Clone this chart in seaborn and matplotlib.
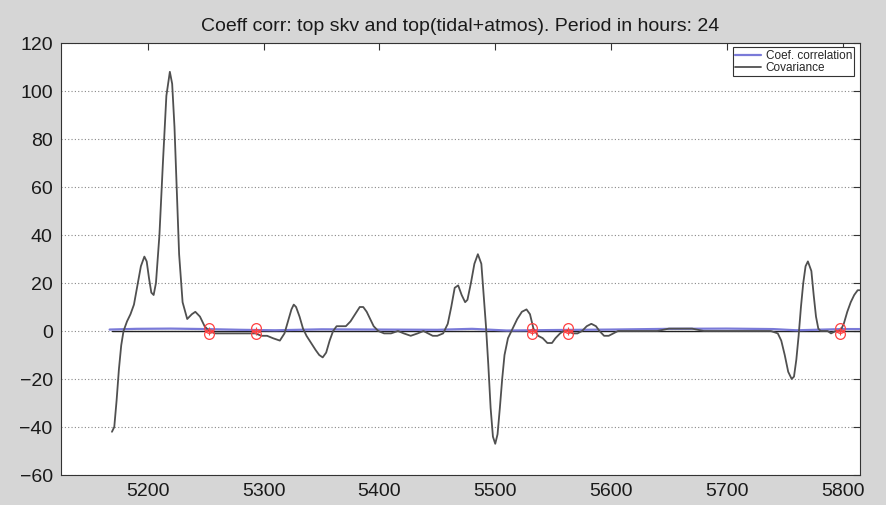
import matplotlib
matplotlib.use("Agg")
import matplotlib.pyplot as plt
import seaborn as sns
import pandas as pd

# ---- data ----
cov_x = [5169, 5171, 5173, 5175, 5177, 5179, 5182, 5185, 5188, 5191, 5194, 5197, 5199, 5201,
         5203, 5205, 5207, 5210, 5213, 5216, 5219, 5221, 5223, 5225, 5227, 5230, 5234, 5238,
         5241, 5245, 5249, 5253, 5258, 5265, 5272, 5280, 5287, 5293, 5298, 5303, 5308, 5314,
         5318, 5321, 5324, 5326, 5328, 5331, 5334, 5337, 5341, 5345, 5348, 5351, 5354, 5357,
         5360, 5363, 5367, 5371, 5375, 5379, 5383, 5386, 5389, 5392, 5395, 5399, 5404, 5410,
         5416, 5421, 5427, 5433, 5438, 5442, 5446, 5450, 5455, 5459, 5462, 5465, 5468, 5471,
         5474, 5476, 5479, 5482, 5485, 5488, 5490, 5492, 5494, 5496, 5498, 5500, 5502, 5504,
         5506, 5508, 5511, 5515, 5519, 5523, 5527, 5530, 5533, 5537, 5541, 5545, 5549, 5552,
         5556, 5559, 5563, 5567, 5571, 5575, 5579, 5583, 5587, 5590, 5594, 5598, 5602, 5606,
         5610, 5620, 5630, 5640, 5650, 5660, 5670, 5680, 5690, 5700, 5710, 5720, 5730, 5738,
         5744, 5747, 5750, 5753, 5756, 5758, 5760, 5762, 5764, 5766, 5768, 5770, 5773, 5775,
         5777, 5779, 5781, 5784, 5787, 5790, 5794, 5798, 5801, 5804, 5807, 5810, 5813, 5815]
cov_y = [-42, -40, -29, -16, -6, 0, 4, 7, 11, 19, 27, 31, 29, 22,
         16, 15, 20, 40, 70, 98, 108, 103, 85, 58, 32, 12, 5, 7,
         8, 6, 2, 0, -1, -1, -1, -1, -1, -1, -2, -2, -3, -4,
         -1, 4, 9, 11, 10, 6, 1, -2, -5, -8, -10, -11, -9, -4,
         0, 2, 2, 2, 4, 7, 10, 10, 8, 5, 2, 0, -1, -1,
         0, -1, -2, -1, 0, -1, -2, -2, -1, 3, 10, 18, 19, 15,
         12, 13, 20, 28, 32, 28, 15, 2, -14, -32, -44, -47, -43, -32,
         -20, -10, -3, 1, 5, 8, 9, 7, 1, -2, -3, -5, -5, -3,
         -1, 0, 0, -1, -1, 0, 2, 3, 2, 0, -2, -2, -1, 0,
         0, 0, 0, 0, 1, 1, 1, 0, 0, 0, 0, 0, 0, 0,
         -1, -4, -10, -17, -20, -19, -12, -2, 10, 20, 27, 29, 25, 15,
         6, 1, 0, 0, 0, -1, 0, 0, 3, 8, 12, 15, 17, 17]

coef_x = [5167, 5190, 5220, 5250, 5280, 5310, 5350, 5400, 5450, 5480, 5510, 5550, 5600,
          5650, 5700, 5740, 5760, 5800, 5815]
coef_y = [0.6, 0.9, 1.0, 0.8, 0.5, 0.3, 0.7, 0.6, 0.5, 0.9, 0.2, 0.4, 0.6,
          0.9, 1.0, 0.8, 0.3, 0.8, 0.8]

zero_x = [5253, 5293, 5532, 5563, 5798]
zero_y = [0, 0, 0, 0, 0]

title = "Coeff corr: top skv and top(tidal+atmos). Period in hours: 24"
yticks = [-60, -40, -20, 0, 20, 40, 60, 80, 100, 120]
xticks = [5200, 5300, 5400, 5500, 5600, 5700, 5800]

# ---- plot ----
sns.set_style("white")
plt.rcParams["font.family"] = ["Liberation Sans", "DejaVu Sans"]

fig = plt.figure(figsize=(8.86, 5.05), dpi=100, facecolor="#d6d6d6")
ax = fig.add_axes([61 / 886, 30 / 505, 799 / 886, 432 / 505])
ax.set_facecolor("white")

cov_df = pd.DataFrame({"x": cov_x, "y": cov_y})
coef_df = pd.DataFrame({"x": coef_x, "y": coef_y})
zero_df = pd.DataFrame({"x": zero_x, "y": zero_y})

ax.plot([cov_x[0], cov_x[-1]], [0, 0], color="#222222", lw=1.0, zorder=2)
sns.lineplot(data=coef_df, x="x", y="y", ax=ax, color="#7a7ad8", lw=1.6,
             sort=False, estimator=None, label="Coef. correlation", zorder=3)
sns.lineplot(data=cov_df, x="x", y="y", ax=ax, color="#505050", lw=1.3,
             sort=False, estimator=None, label="Covariance", zorder=4)
for dy in (1.1, -1.1):
    ax.plot(zero_df["x"], zero_df["y"] + dy, linestyle="none", marker="o", ms=7,
            mfc="none", mec="#ff4040", mew=0.9, zorder=5)
ax.plot(zero_df["x"], zero_df["y"], linestyle="none", marker="+", ms=6,
        mec="#ff4040", mew=0.8, zorder=5)

ax.set_xlim(5125, 5815)
ax.set_ylim(-60, 120)
ax.set_xticks(xticks)
ax.set_yticks(yticks)
ax.set_xticklabels([str(t) for t in xticks])
ax.set_yticklabels([("\u2212" + str(-t)) if t < 0 else str(t) for t in yticks])
ax.set_xlabel("")
ax.set_ylabel("")
ax.yaxis.grid(True, linestyle=(0, (1, 2)), color="#888888", lw=0.8)
ax.xaxis.grid(False)
ax.tick_params(axis="both", direction="in", length=5, width=0.8, labelsize=14,
               top=True, right=True, colors="#333333", labelcolor="#1a1a1a", pad=6)
for s in ax.spines.values():
    s.set_color("#333333")
    s.set_linewidth(0.8)
ax.set_title(title, fontsize=14, pad=9, color="#1a1a1a")

leg = ax.legend(loc="upper right", bbox_to_anchor=(0.993, 0.99), borderaxespad=0,
                fontsize=8.5, frameon=True, fancybox=False, framealpha=1,
                edgecolor="#333333", labelspacing=0.0, handlelength=2.2,
                handletextpad=0.4, borderpad=0.2)
leg.get_frame().set_linewidth(0.8)

fig.savefig("out.png", dpi=100, facecolor=fig.get_facecolor())
